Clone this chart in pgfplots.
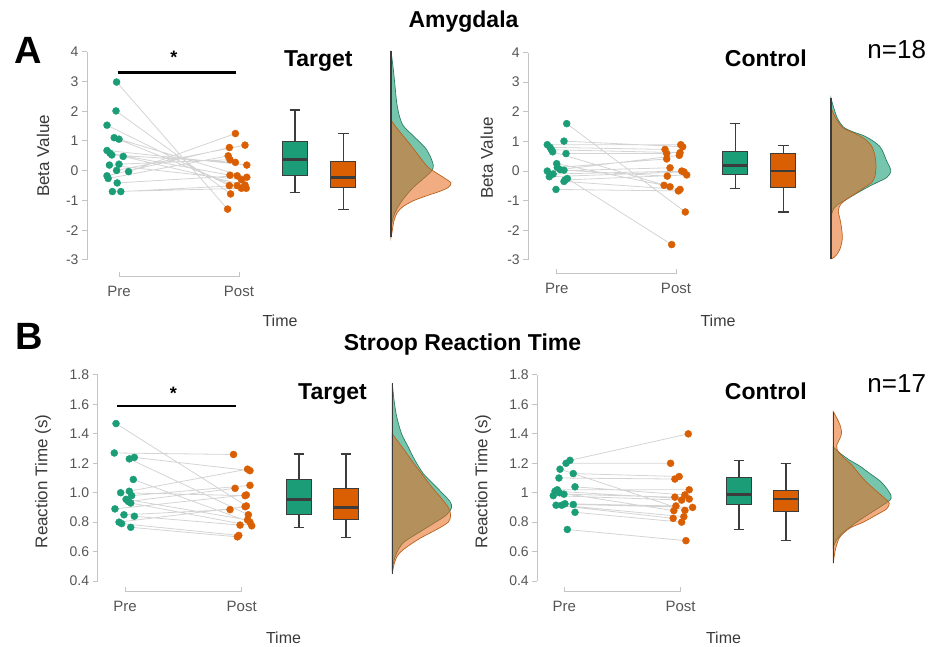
\documentclass[border=0pt]{standalone}
\usepackage{fontspec}
\setmainfont{Liberation Sans}
\usepackage{pgfplots}
\pgfplotsset{compat=1.18}
\usepackage{pgfplotstable}
\usepgfplotslibrary{statistics}

\definecolor{dgreen}{HTML}{1B9E77}
\definecolor{dorange}{HTML}{D95F02}
\definecolor{ofillc}{HTML}{E8681A}
\definecolor{axgray}{HTML}{C4C4C4}
\definecolor{tickgray}{HTML}{555555}
\definecolor{labgray}{HTML}{3A3A3A}
\definecolor{boxline}{HTML}{3C3C3C}
\definecolor{linegray}{HTML}{D4D4D4}
\definecolor{greenline}{HTML}{2E7D62}
\definecolor{orangeline}{HTML}{B8621E}

\newcommand\fs[1]{\fontsize{#1}{#1}\selectfont}

% ---------- paired data: x (jittered position), y (value), g (0 pre, 1 post, 2 separator)
\pgfplotstableread{
x y g
-0.020 2.98 0
0.905 -1.29 1
nan nan 2
-0.025 2.01 0
0.930 -0.78 1
nan nan 2
-0.100 1.53 0
0.920 -0.50 1
nan nan 2
-0.040 1.11 0
1.020 -0.59 1
nan nan 2
0.000 1.06 0
1.065 -0.22 1
nan nan 2
-0.100 0.68 0
1.065 0.19 1
nan nan 2
-0.075 0.59 0
0.925 -0.15 1
nan nan 2
-0.060 0.53 0
0.970 0.28 1
nan nan 2
0.035 0.48 0
1.050 -0.48 1
nan nan 2
-0.080 0.19 0
1.020 -0.30 1
nan nan 2
0.000 0.22 0
0.925 0.37 1
nan nan 2
-0.020 0.01 0
1.050 0.86 1
nan nan 2
0.080 -0.03 0
0.970 1.25 1
nan nan 2
-0.100 -0.17 0
0.920 0.78 1
nan nan 2
-0.090 -0.26 0
0.910 0.50 1
nan nan 2
-0.015 -0.41 0
0.985 -0.17 1
nan nan 2
-0.055 -0.70 0
1.060 -0.59 1
nan nan 2
0.015 -0.70 0
0.985 -0.50 1
}\amyTarget

\pgfplotstableread{
x y g
0.084 1.60 0
1.078 -1.38 1
nan nan 2
0.061 1.01 0
1.056 0.82 1
nan nan 2
-0.079 0.89 0
1.040 0.89 1
nan nan 2
-0.056 0.80 0
0.908 0.73 1
nan nan 2
-0.044 0.72 0
1.034 0.62 1
nan nan 2
-0.034 0.65 0
0.950 -0.53 1
nan nan 2
0.078 0.59 0
0.922 0.59 1
nan nan 2
0.000 0.25 0
0.900 -0.48 1
nan nan 2
0.005 0.12 0
0.922 0.41 1
nan nan 2
0.028 0.05 0
1.028 0.53 1
nan nan 2
0.061 0.03 0
0.927 -0.17 1
nan nan 2
-0.079 0.00 0
0.950 0.11 1
nan nan 2
-0.030 -0.10 0
1.048 0.00 1
nan nan 2
-0.062 -0.19 0
1.067 -0.03 1
nan nan 2
0.089 -0.25 0
0.964 -2.48 1
nan nan 2
0.070 -0.30 0
1.090 -0.13 1
nan nan 2
0.061 -0.35 0
1.034 -0.62 1
nan nan 2
-0.006 -0.62 0
1.020 -0.67 1
}\amyControl

\pgfplotstableread{
x y g
-0.077 1.47 0
1.040 0.91 1
nan nan 2
-0.092 1.27 0
0.930 1.26 1
nan nan 2
0.080 1.24 0
1.071 1.15 1
nan nan 2
0.037 1.23 0
1.057 0.85 1
nan nan 2
0.071 1.09 0
1.071 0.80 1
nan nan 2
0.037 1.01 0
1.050 1.16 1
nan nan 2
-0.037 1.00 0
1.029 0.98 1
nan nan 2
0.057 0.98 0
1.071 1.05 1
nan nan 2
0.009 0.955 0
1.050 0.815 1
nan nan 2
0.029 0.94 0
0.943 1.03 1
nan nan 2
0.049 0.93 0
1.086 0.775 1
nan nan 2
-0.086 0.89 0
1.040 0.985 1
nan nan 2
-0.009 0.85 0
0.900 0.885 1
nan nan 2
0.080 0.84 0
0.986 0.78 1
nan nan 2
-0.051 0.80 0
1.029 0.905 1
nan nan 2
-0.029 0.79 0
0.975 0.71 1
nan nan 2
0.049 0.765 0
0.963 0.70 1
}\rtTarget

\pgfplotstableread{
x y g
0.049 1.22 0
1.066 1.40 1
nan nan 2
0.015 1.20 0
0.914 1.20 1
nan nan 2
-0.037 1.16 0
1.037 0.88 1
nan nan 2
0.077 1.13 0
0.988 1.11 1
nan nan 2
-0.046 1.10 0
0.951 1.093 1
nan nan 2
0.092 1.04 0
1.037 0.985 1
nan nan 2
-0.060 1.02 0
1.074 1.02 1
nan nan 2
-0.095 0.98 0
1.009 0.95 1
nan nan 2
-0.043 1.00 0
0.942 0.878 1
nan nan 2
-0.003 0.99 0
0.951 0.97 1
nan nan 2
-0.071 0.915 0
0.936 0.826 1
nan nan 2
-0.022 0.915 0
1.028 0.837 1
nan nan 2
0.077 0.92 0
1.103 0.90 1
nan nan 2
0.092 0.867 0
1.009 0.80 1
nan nan 2
0.026 0.75 0
1.046 0.674 1
nan nan 2
-0.080 1.01 0
1.074 0.957 1
nan nan 2
0.006 0.925 0
0.960 0.91 1
}\rtControl

\pgfplotsset{
  panel/.style={
    scale only axis, clip=false,
    axis x line*=bottom, axis y line*=left,
    every outer x axis line/.append style={-},
    every outer y axis line/.append style={-},
    axis line style={-, draw=axgray, line width=1pt},
    xmin=0, xmax=1, xtick={0,1}, xticklabels={Pre,Post},
    tick style={draw=axgray, line width=1pt},
    tick align=outside, major tick length=5pt,
    xtick style={yshift=5pt},
    ticklabel style={text=tickgray},
    yticklabel style={font=\fs{14}},
    xticklabel style={font=\fs{15}, yshift=-1pt},
    /pgf/number format/assume math mode=true,
  },
  pairline/.style={draw=linegray, line width=0.8pt, unbounded coords=jump, mark=none},
  pre/.style={only marks, mark=*, mark size=3.5pt, color=dgreen, restrict expr to domain={\thisrow{g}}{0:0}},
  post/.style={only marks, mark=*, mark size=3.5pt, color=dorange, restrict expr to domain={\thisrow{g}}{1:1}},
  bx/.style={draw=boxline, line width=1.1pt, boxplot/draw direction=y,
    boxplot/every median/.style={draw=boxline, line width=2.8pt}},
  dens/.style={scale only axis, hide axis, clip=false, xmin=0, xmax=60, width=60pt},
  gfill/.style={fill=dgreen, fill opacity=0.6, draw=greenline, line width=0.7pt, smooth, tension=0.5},
  ofill/.style={fill=ofillc, fill opacity=0.55, draw=orangeline, line width=0.7pt, smooth, tension=0.5},
  base/.style={draw=boxline, line width=1.1pt},
}

\begin{document}
\begin{tikzpicture}[x=1pt,y=1pt]
\useasboundingbox (0,0) rectangle (935,646);

% ================= Amygdala, Target =================
\begin{axis}[panel, at={(119pt,386pt)}, anchor=south west,
  width=120pt, height=208.3pt, ymin=-3, ymax=4, ytick={-3,-2,-1,0,1,2,3,4},
  axis x line shift=16.7pt, axis y line shift=32pt]
  \addplot[pairline] table[x=x,y=y] {\amyTarget};
  \addplot[pre] table[x=x,y=y] {\amyTarget};
  \addplot[post] table[x=x,y=y] {\amyTarget};
  \addplot[black, line width=2.4pt] coordinates {(-0.011,3.30) (0.972,3.30)};
  \node[anchor=base, font=\bfseries\fs{18}] at (axis cs:0.458,3.6) {*};
  \addplot[bx, fill=dgreen, boxplot prepared={draw position=1.467, lower whisker=-0.73, lower quartile=-0.17, median=0.37, upper quartile=0.97, upper whisker=2.04, box extend=0.208, whisker extend=0.09}] coordinates {};
  \addplot[bx, fill=dorange, boxplot prepared={draw position=1.870, lower whisker=-1.29, lower quartile=-0.56, median=-0.23, upper quartile=0.30, upper whisker=1.25, box extend=0.208, whisker extend=0.09}] coordinates {};
\end{axis}
\begin{axis}[dens, at={(391pt,386pt)}, anchor=south west, height=208.3pt, ymin=-3, ymax=4]
  \addplot[gfill] coordinates {(0,4.03) (2.3,3.41) (4,2.85) (5.7,2.29) (8.3,1.85) (12.3,1.51) (22.3,1.17) (34,0.78) (39.7,0.45) (42.3,0.17) (40.7,0.0) (34,-0.22) (22.3,-0.56) (12.3,-0.95) (5.7,-1.29) (2.3,-1.57) (0.3,-1.85) (0,-1.9)} -- cycle;
  \addplot[ofill] coordinates {(0,1.71) (4,1.51) (10.7,1.23) (19,0.89) (29,0.45) (37.3,0.11) (45.7,-0.08) (54,-0.26) (60,-0.41) (57.3,-0.56) (49,-0.69) (35.7,-0.84) (22.3,-1.01) (12.3,-1.2) (6.3,-1.40) (3,-1.68) (1,-2.07) (0,-2.24)} -- cycle;
  \addplot[base] coordinates {(0,4.03) (0,-2.24)};
\end{axis}

% ================= Amygdala, Control =================
\begin{axis}[panel, at={(556.7pt,386pt)}, anchor=south west,
  width=119.3pt, height=207.5pt, ymin=-3, ymax=4, ytick={-3,-2,-1,0,1,2,3,4},
  axis x line shift=14pt, axis y line shift=28.4pt]
  \addplot[pairline] table[x=x,y=y] {\amyControl};
  \addplot[pre] table[x=x,y=y] {\amyControl};
  \addplot[post] table[x=x,y=y] {\amyControl};
  \addplot[bx, fill=dgreen, boxplot prepared={draw position=1.495, lower whisker=-0.59, lower quartile=-0.13, median=0.20, upper quartile=0.67, upper whisker=1.62, box extend=0.21, whisker extend=0.09}] coordinates {};
  \addplot[bx, fill=dorange, boxplot prepared={draw position=1.900, lower whisker=-1.38, lower quartile=-0.54, median=0.00, upper quartile=0.59, upper whisker=0.87, box extend=0.21, whisker extend=0.09}] coordinates {};
\end{axis}
\begin{axis}[dens, at={(831pt,386pt)}, anchor=south west, height=207.5pt, ymin=-3, ymax=4]
  \addplot[gfill] coordinates {(0,2.46) (2.3,2.18) (6.3,1.79) (12.3,1.49) (20.7,1.34) (32.3,1.20) (42.3,1.01) (49,0.82) (52.3,0.62) (55.7,0.34) (59,0.11) (59.7,-0.03) (55.7,-0.22) (45.7,-0.39) (35.7,-0.56) (25.7,-0.75) (15.7,-0.95) (7.3,-1.12) (2.3,-1.29) (0.3,-1.51) (0,-1.55)} -- cycle;
  \addplot[ofill] coordinates {(0,2.13) (5.7,1.73) (12.3,1.45) (22.3,1.29) (32.3,1.12) (40.7,0.84) (44,0.50) (45,0.17) (44,-0.17) (40.7,-0.39) (35.7,-0.50) (25.7,-0.73) (15.7,-0.95) (9.7,-1.12) (7.3,-1.34) (9,-1.62) (10.7,-1.96) (11.3,-2.29) (9,-2.63) (5,-2.85) (0.7,-2.96) (0,-2.96)} -- cycle;
  \addplot[base] coordinates {(0,2.46) (0,-2.96)};
\end{axis}

% ================= Stroop, Target =================
\begin{axis}[panel, at={(125pt,65pt)}, anchor=south west,
  width=116.7pt, height=206pt, ymin=0.4, ymax=1.8, ytick={0.4,0.6,0.8,1.0,1.2,1.4,1.6,1.8},
  yticklabel style={/pgf/number format/fixed, /pgf/number format/fixed zerofill, /pgf/number format/precision=1},
  axis x line shift=10.7pt, axis y line shift=27.3pt]
  \addplot[pairline] table[x=x,y=y] {\rtTarget};
  \addplot[pre] table[x=x,y=y] {\rtTarget};
  \addplot[post] table[x=x,y=y] {\rtTarget};
  \addplot[black, line width=2.4pt] coordinates {(-0.066,1.59) (0.949,1.59)};
  \node[anchor=base, font=\bfseries\fs{18}] at (axis cs:0.414,1.635) {*};
  \addplot[bx, fill=dgreen, boxplot prepared={draw position=1.491, lower whisker=0.765, lower quartile=0.853, median=0.955, upper quartile=1.09, upper whisker=1.263, box extend=0.208, whisker extend=0.09}] coordinates {};
  \addplot[bx, fill=dorange, boxplot prepared={draw position=1.894, lower whisker=0.697, lower quartile=0.815, median=0.90, upper quartile=1.03, upper whisker=1.263, box extend=0.208, whisker extend=0.09}] coordinates {};
\end{axis}
\begin{axis}[dens, at={(392.3pt,65pt)}, anchor=south west, height=206pt, ymin=0.4, ymax=1.8]
  \addplot[gfill] coordinates {(0,1.743) (1.7,1.63) (4.3,1.52) (9.3,1.40) (16,1.31) (22.7,1.22) (31,1.13) (41,1.06) (51,0.99) (57.7,0.94) (59.3,0.90) (54.3,0.85) (41,0.79) (24.3,0.72) (11,0.66) (4.3,0.59) (1,0.52) (0,0.47)} -- cycle;
  \addplot[ofill] coordinates {(0,1.40) (4.3,1.36) (11,1.30) (19.3,1.22) (29.3,1.13) (39.3,1.04) (49.3,0.96) (56,0.90) (58.3,0.85) (56,0.80) (44.3,0.75) (27.7,0.69) (14.3,0.63) (6,0.58) (2,0.52) (0,0.45)} -- cycle;
  \addplot[base] coordinates {(0,1.743) (0,0.45)};
\end{axis}

% ================= Stroop, Control =================
\begin{axis}[panel, at={(564.3pt,65pt)}, anchor=south west,
  width=116.3pt, height=206pt, ymin=0.4, ymax=1.8, ytick={0.4,0.6,0.8,1,1.2,1.4,1.6,1.8},
  axis x line shift=10.7pt, axis y line shift=27pt]
  \addplot[pairline] table[x=x,y=y] {\rtControl};
  \addplot[pre] table[x=x,y=y] {\rtControl};
  \addplot[post] table[x=x,y=y] {\rtControl};
  \addplot[bx, fill=dgreen, boxplot prepared={draw position=1.502, lower whisker=0.751, lower quartile=0.921, median=0.989, upper quartile=1.102, upper whisker=1.217, box extend=0.21, whisker extend=0.09}] coordinates {};
  \addplot[bx, fill=dorange, boxplot prepared={draw position=1.906, lower whisker=0.674, lower quartile=0.875, median=0.957, upper quartile=1.018, upper whisker=1.20, box extend=0.21, whisker extend=0.09}] coordinates {};
\end{axis}
\begin{axis}[dens, at={(833.3pt,65pt)}, anchor=south west, height=206pt, ymin=0.4, ymax=1.8]
  \addplot[gfill] coordinates {(0,1.31) (3.3,1.29) (8.3,1.26) (16.7,1.22) (26.7,1.18) (36.7,1.13) (46.7,1.08) (53.3,1.03) (57.7,0.98) (56.7,0.95) (48.3,0.91) (36.7,0.86) (23.3,0.80) (10,0.73) (3.3,0.68) (0,0.63)} -- cycle;
  \addplot[ofill] coordinates {(0,1.55) (3.3,1.51) (6.7,1.46) (8.3,1.41) (6.7,1.37) (3.3,1.32) (4,1.29) (10,1.24) (18.3,1.19) (26.7,1.12) (35,1.06) (43.3,1.01) (51.7,0.96) (56,0.93) (53.3,0.89) (43.3,0.85) (30,0.80) (16.7,0.76) (6.7,0.70) (2.7,0.63) (0.7,0.56) (0,0.52)} -- cycle;
  \addplot[base] coordinates {(0,1.55) (0,0.52)};
\end{axis}

% ================= texts =================
\node[font=\bfseries\fs{38}] at (28,596) {A};
\node[font=\bfseries\fs{38}] at (29,310) {B};
\node[anchor=base, font=\bfseries\fs{23}] at (463.5,618) {Amygdala};
\node[anchor=base, font=\bfseries\fs{23}] at (462.5,295) {Stroop Reaction Time};
\node[anchor=base, font=\bfseries\fs{23}] at (318.3,579.5) {Target};
\node[anchor=base, font=\bfseries\fs{23}] at (765.8,579.3) {Control};
\node[anchor=base, font=\fs{26}] at (896.7,587.7) {n=18};
\node[anchor=base, font=\bfseries\fs{23}] at (332.5,246.7) {Target};
\node[anchor=base, font=\bfseries\fs{23}] at (765.8,246.7) {Control};
\node[anchor=base, font=\fs{26}] at (896.7,253.3) {n=17};
\node[anchor=base, font=\fs{16}, text=labgray] at (280,319.3) {Time};
\node[anchor=base, font=\fs{16}, text=labgray] at (718,319.3) {Time};
\node[anchor=base, font=\fs{16}, text=labgray] at (283.5,2.5) {Time};
\node[anchor=base, font=\fs{16}, text=labgray] at (723.5,2.5) {Time};
\node[rotate=90, font=\fs{17}, text=labgray] at (43,490) {Beta Value};
\node[rotate=90, font=\fs{17}, text=labgray] at (486.7,488) {Beta Value};
\node[rotate=90, font=\fs{17}, text=labgray] at (43,164.5) {Reaction Time (s)};
\node[rotate=90, font=\fs{17}, text=labgray] at (483,164.5) {Reaction Time (s)};
\end{tikzpicture}
\end{document}
